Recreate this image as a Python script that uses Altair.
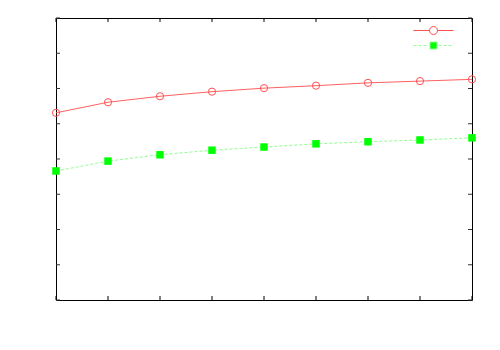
import altair as alt
import pandas as pd

x_vals = [0, 1, 2, 3, 4, 5, 6, 7, 8]
red_vals = [5.31, 5.61, 5.78, 5.91, 6.01, 6.08, 6.16, 6.21, 6.26]
green_vals = [3.66, 3.94, 4.12, 4.25, 4.34, 4.43, 4.49, 4.54, 4.60]
series_names = ["s1", "s2"]
x_ticks = [0, 1, 2, 3, 4, 5, 6, 7, 8]
y_ticks = [0, 1, 2, 3, 4, 5, 6, 7, 8]

RED_LINE = "#ff6060"
RED_PT = "#ff5050"
GREEN_LINE = "#90ff90"
GREEN_PT = "#00ff00"

rows = []
for xv, r, g in zip(x_vals, red_vals, green_vals):
    rows.append({"x": xv, "y": r, "series": series_names[0]})
    rows.append({"x": xv, "y": g, "series": series_names[1]})
df = pd.DataFrame(rows)

W, H = 416, 282
xs = alt.Scale(domain=[0, 8], nice=False, zero=False)
ys = alt.Scale(domain=[0, 8], nice=False, zero=False)
X = alt.X("x:Q", scale=xs, axis=None)
Y = alt.Y("y:Q", scale=ys, axis=None)

base = alt.Chart(df)
red = base.transform_filter(alt.datum.series == series_names[0])
green = base.transform_filter(alt.datum.series == series_names[1])

red_line = red.mark_line(color=RED_LINE, strokeWidth=1).encode(x=X, y=Y)
red_pts = red.mark_point(shape="circle", filled=False, color=RED_PT, size=52, strokeWidth=1, opacity=1).encode(x=X, y=Y)
green_line = green.mark_line(color=GREEN_LINE, strokeWidth=1, strokeDash=[3, 2]).encode(x=X, y=Y)
green_pts = green.mark_point(shape="square", filled=True, color=GREEN_PT, size=56, opacity=1).encode(x=X, y=Y)

# legend symbols (unit scale: 5 px per unit with symbolSize 100)
red_sym = "M-4,0L-0.8,0M0.8,0L4,0M0.8,0A0.8,0.8,0,1,1,-0.8,0A0.8,0.8,0,1,1,0.8,0Z"
dash = ""
p = -4.0
while p < 4.0:
    e = min(p + 0.6, 4.0)
    if e <= -0.7 or p >= 0.7:
        dash += "M%.2f,0L%.2f,0" % (p, e)
    p += 1.0
green_sym = dash + "M-0.7,-0.7L0.7,-0.7L0.7,0.7L-0.7,0.7Z"

legend = base.transform_filter("false").mark_point(opacity=1, strokeWidth=1).encode(
    x=X, y=Y,
    color=alt.Color("series:N", scale=alt.Scale(domain=series_names, range=[RED_PT, GREEN_LINE]),
                    legend=alt.Legend(title=None, orient="none", legendX=372, legendY=7,
                                      symbolSize=100, labelExpr="''", labelFontSize=10,
                                      rowPadding=3, padding=0, symbolOffset=0,
                                      symbolOpacity=1, symbolStrokeWidth=1)),
    shape=alt.Shape("series:N", scale=alt.Scale(domain=series_names, range=[red_sym, green_sym])),
    fill=alt.Fill("series:N", scale=alt.Scale(domain=series_names, range=["transparent", GREEN_PT])),
)

xt = pd.DataFrame({"t": x_ticks})
yt = pd.DataFrame({"t": y_ticks})
tx = alt.X("t:Q", scale=xs, axis=None)
ty = alt.Y("t:Q", scale=ys, axis=None)
tick_b = alt.Chart(xt).mark_rule(color="black", strokeWidth=1).encode(x=tx, y=alt.value(H), y2=alt.value(H - 4))
tick_t = alt.Chart(xt).mark_rule(color="black", strokeWidth=1).encode(x=tx, y=alt.value(0), y2=alt.value(4))
tick_l = alt.Chart(yt).mark_rule(color="#333333", strokeWidth=1).encode(y=ty, x=alt.value(0), x2=alt.value(4))
tick_r = alt.Chart(yt).mark_rule(color="#333333", strokeWidth=1).encode(y=ty, x=alt.value(W), x2=alt.value(W - 4))

chart = alt.layer(
    tick_b, tick_t, tick_l, tick_r,
    red_line, green_line, red_pts, green_pts, legend
).properties(
    width=W, height=H,
    autosize=alt.AutoSizeParams(type="none"),
    padding={"left": 48, "top": 10, "right": 20, "bottom": 42},
).configure_view(stroke="black", strokeWidth=1)

chart.save("out.html", embed_options={"renderer": "svg", "actions": False})
